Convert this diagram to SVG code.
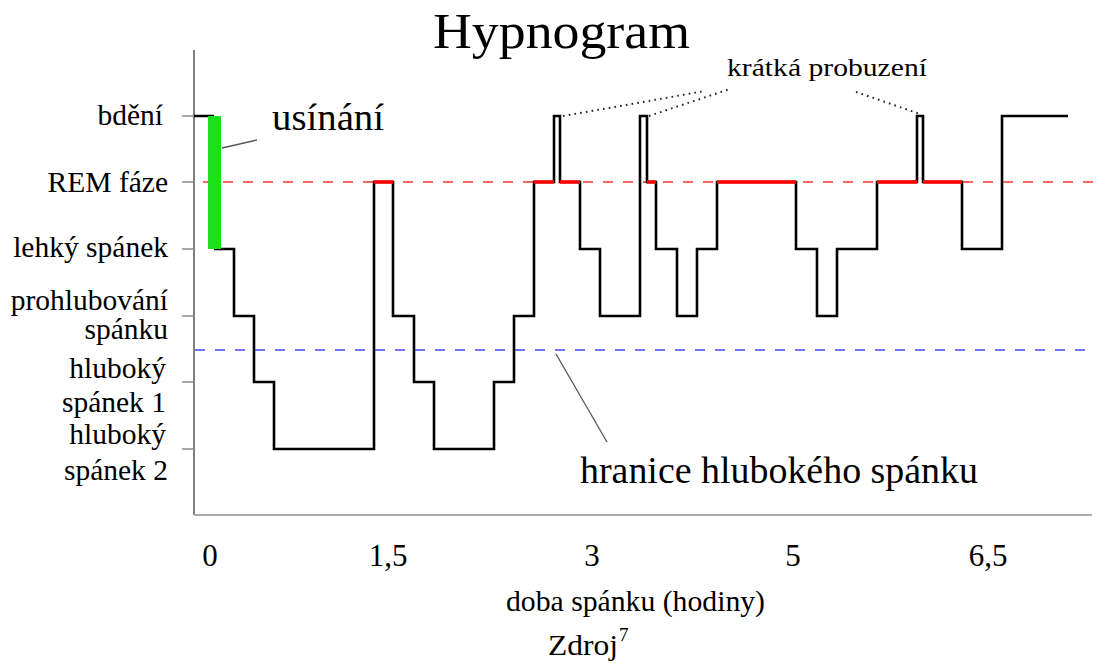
<svg xmlns="http://www.w3.org/2000/svg" width="1102" height="663" viewBox="0 0 1102 663" font-family="'Liberation Serif','Times New Roman',serif">
<style>
text{font-family:"Liberation Serif","Times New Roman",serif;fill:#000}
.lbl{font-size:29.5px;text-anchor:end}
.ax{font-size:31px;text-anchor:middle}
.tick{stroke:#888;stroke-width:1.5}
.hyp{fill:none;stroke:#000;stroke-width:2.6;stroke-linejoin:miter}
.rem{fill:none;stroke:#f00;stroke-width:3.5}
.dot{fill:none;stroke:#222;stroke-width:2;stroke-dasharray:1.6 4.2}
.ptr{stroke:#555;stroke-width:1.3}
</style>
<rect width="1102" height="663" fill="#fff"/>
<g id="title"><text x="433" y="48" font-size="50" textLength="257" lengthAdjust="spacingAndGlyphs" fill="#111">Hypnogram</text></g>
<g id="axes">
<line x1="194" y1="50" x2="194" y2="515" stroke="#555" stroke-width="1.5"/>
<line x1="194" y1="515" x2="1092" y2="515" stroke="#aaa" stroke-width="2"/>
<line class="tick" x1="182" y1="116" x2="194" y2="116"/>
<line class="tick" x1="182" y1="182" x2="194" y2="182"/>
<line class="tick" x1="182" y1="249" x2="194" y2="249"/>
<line class="tick" x1="182" y1="316" x2="194" y2="316"/>
<line class="tick" x1="182" y1="382" x2="194" y2="382"/>
<line class="tick" x1="182" y1="449" x2="194" y2="449"/>
</g>
<g id="level-labels">
<text class="lbl" x="163" y="125">bdění</text>
<text class="lbl" x="168" y="192">REM fáze</text>
<text class="lbl" x="168" y="257">lehký spánek</text>
<text class="lbl" x="168" y="310">prohlubování</text>
<text class="lbl" x="168" y="339">spánku</text>
<text class="lbl" x="166" y="378">hluboký</text>
<text class="lbl" x="166" y="412">spánek 1</text>
<text class="lbl" x="166" y="444">hluboký</text>
<text class="lbl" x="168" y="480">spánek 2</text>
</g>
<g id="guides">
<line x1="203" y1="182" x2="1102" y2="182" stroke="#f33" stroke-width="1.3" stroke-dasharray="10 10"/>
<line x1="195" y1="350" x2="1094" y2="350" stroke="#44f" stroke-width="1.3" stroke-dasharray="10 10"/>
</g>
<g id="hypnogram">
<path class="hyp" d="M194,116 H214 M214,249 H234 V316 H254 V382 H274 V449 H374 V182 H393 V316 H414 V382 H434 V449 H494 V382 H514 V316 H534 V182 H554 V116 H560 V182 H580 V249 H600 V316 H640 V116 H647 V182 H656 V249 H677 V316 H697 V249 H717 V182 H796 V249 H817 V316 H837 V249 H877 V182 H917 V116 H923 V182 H962 V249 H1002 V116 H1068"/>
<rect id="falling-asleep" x="208" y="116" width="13" height="133" fill="#1de01d"/>
<g class="rem">
<line x1="374" y1="182" x2="393" y2="182"/>
<line x1="534" y1="182" x2="554" y2="182"/>
<line x1="560" y1="182" x2="580" y2="182"/>
<line x1="647" y1="182" x2="656" y2="182"/>
<line x1="717" y1="182" x2="796" y2="182"/>
<line x1="877" y1="182" x2="917" y2="182"/>
<line x1="923" y1="182" x2="962" y2="182"/>
</g>
</g>
<g id="connectors">
<line class="ptr" x1="222" y1="148" x2="257" y2="140"/>
<line class="ptr" x1="556" y1="354" x2="607" y2="442"/>
<line class="dot" x1="563" y1="116" x2="705" y2="91"/>
<line class="dot" x1="649" y1="116" x2="730" y2="89"/>
<line class="dot" x1="856" y1="92" x2="920" y2="114"/>
</g>
<g id="annotations">
<text x="272" y="130" font-size="37" textLength="112" lengthAdjust="spacingAndGlyphs">usínání</text>
<text x="727" y="76" font-size="26" textLength="200" lengthAdjust="spacingAndGlyphs">krátká probuzení</text>
<text x="580" y="483" font-size="37" textLength="398" lengthAdjust="spacingAndGlyphs">hranice hlubokého spánku</text>
</g>
<g id="x-axis-labels">
<text class="ax" x="210" y="566">0</text>
<text class="ax" x="388" y="566">1,5</text>
<text class="ax" x="592" y="566">3</text>
<text class="ax" x="793" y="566">5</text>
<text class="ax" x="988" y="566">6,5</text>
<text x="506" y="611" font-size="30" textLength="259" lengthAdjust="spacingAndGlyphs">doba spánku (hodiny)</text>
<text x="548" y="655" font-size="30" textLength="70" lengthAdjust="spacingAndGlyphs">Zdroj</text>
<text x="619" y="641" font-size="19">7</text>
</g>
</svg>
